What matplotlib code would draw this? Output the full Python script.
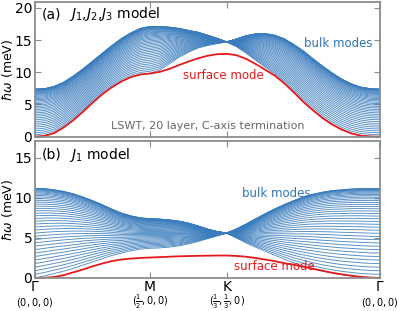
import numpy as np
import matplotlib
matplotlib.use("Agg")
import matplotlib.pyplot as plt
from matplotlib.transforms import blended_transform_factory

# path coordinate (Gamma=0, M=1, K=5/3, Gamma=3), 37 samples
q = np.arange(37) / 12.0
tick_pos = [0.0, 1.0, 5.0 / 3.0, 3.0]
tick_labels = ["Γ", "M", "K", "Γ"]
tick_sub = [r"$(0,0,0)$", r"$(\frac{1}{2},0,0)$", r"$(\frac{1}{3},\frac{1}{3},0)$", r"$(0,0,0)$"]

# panel (a): J1,J2,J3 model
a_upper = [7.4, 7.45, 7.8, 8.45, 9.4, 10.5, 11.7, 12.9, 14.1, 15.2, 16.1, 16.8, 17.1,
           17.1, 17.0, 16.8, 16.5, 16.2, 15.75, 15.25, 14.7,
           15.15, 15.65, 15.95, 16.0, 15.75, 15.2, 14.3, 13.3, 12.1, 10.95, 9.9, 8.95,
           8.2, 7.7, 7.45, 7.4]
a_lower = [0.0, 0.15, 0.6, 1.5, 2.6, 3.9, 5.3, 6.6, 7.7, 8.6, 9.3, 9.7, 9.85,
           10.3, 11.3, 12.3, 13.1, 13.75, 14.15, 14.45, 14.7,
           14.0, 13.0, 11.9, 10.8, 9.75, 8.4, 7.0, 5.5, 4.2, 3.0, 2.0, 1.15,
           0.55, 0.2, 0.05, 0.0]
a_surface = [0.0, 0.12, 0.55, 1.45, 2.55, 3.85, 5.25, 6.55, 7.65, 8.55, 9.25, 9.65, 9.8,
             10.05, 10.5, 11.1, 11.65, 12.15, 12.55, 12.8, 12.85,
             12.65, 12.1, 11.3, 10.4, 9.5, 8.3, 6.9, 5.4, 4.1, 2.9, 1.9, 1.1,
             0.5, 0.15, 0.03, 0.0]

# panel (b): J1 model
b_upper = [11.2, 11.15, 11.0, 10.8, 10.5, 10.1, 9.65, 9.15, 8.6, 8.1, 7.75, 7.5, 7.4,
           7.35, 7.25, 7.1, 6.85, 6.5, 6.1, 5.8, 5.6,
           6.1, 6.7, 7.35, 8.0, 8.6, 9.15, 9.65, 10.1, 10.45, 10.7, 10.9, 11.0,
           11.1, 11.15, 11.15, 11.15]
b_lower = [0.0, 0.25, 0.55, 0.85, 1.2, 1.6, 2.0, 2.4, 2.8, 3.1, 3.4, 3.6, 3.7,
           3.75, 3.85, 4.0, 4.25, 4.55, 4.9, 5.25, 5.6,
           5.0, 4.4, 3.85, 3.35, 2.85, 2.35, 1.9, 1.5, 1.15, 0.85, 0.6, 0.4,
           0.25, 0.12, 0.04, 0.0]
b_surface = [0.0, 0.02, 0.12, 0.35, 0.7, 1.05, 1.45, 1.8, 2.1, 2.3, 2.42, 2.5, 2.55,
             2.6, 2.65, 2.7, 2.73, 2.76, 2.78, 2.8, 2.8,
             2.75, 2.65, 2.5, 2.3, 2.1, 1.85, 1.65, 1.4, 1.15, 0.9, 0.65, 0.45,
             0.28, 0.14, 0.05, 0.0]

n_bulk = 40
layer_frac = np.sin(np.linspace(0, np.pi / 2, n_bulk))

blue = "#3a7cbd"
red = "#e41a1c"
gray = "#8c8c8c"

fig = plt.figure(figsize=(3.99, 3.11), dpi=100)
ax1 = fig.add_axes([0.0877, 0.5595, 0.8646, 0.4341])
ax2 = fig.add_axes([0.0877, 0.1050, 0.8646, 0.4416])


def draw(ax, up, lo, su):
    up = np.array(up)
    lo = np.array(lo)
    for f in layer_frac:
        ax.plot(q, lo + (up - lo) * f, color=blue, lw=0.65, alpha=0.88)
    ax.plot(q, su, color=red, lw=1.3)


draw(ax1, a_upper, a_lower, a_surface)
draw(ax2, b_upper, b_lower, b_surface)

for ax in (ax1, ax2):
    ax.set_xlim(0, 3)
    ax.set_xticks(tick_pos)
    for s in ax.spines.values():
        s.set_color(gray)
        s.set_linewidth(1.3)
    ax.tick_params(direction="in", top=True, right=True, labelsize=10,
                   color=gray, length=4, width=0.8, pad=2)
    ax.set_ylabel(r"$\hbar\omega$ (meV)", fontsize=9, labelpad=0)

ax1.set_ylim(-0.05, 20.9)
ax1.set_yticks([0, 5, 10, 15, 20])
ax1.set_xticklabels([])
ax2.set_ylim(-0.05, 17.1)
ax2.set_yticks([0, 5, 10, 15])
ax2.set_xticklabels(tick_labels, fontsize=10)
ax2.tick_params(axis="x", pad=1)

tr = blended_transform_factory(ax2.transData, ax2.transAxes)
for xp, s in zip(tick_pos, tick_sub):
    ax2.text(xp, -0.175, s, transform=tr, ha="center", va="center", fontsize=7)

ax1.text(0.02, 0.91, "(a)", transform=ax1.transAxes, fontsize=10, va="center")
ax1.text(0.10, 0.91, r"$J_1$,$J_2$,$J_3$ model", transform=ax1.transAxes, fontsize=10, va="center")
ax1.text(0.878, 0.695, "bulk modes", transform=ax1.transAxes, fontsize=8.5, color="#2e74b5",
         ha="center", va="center")
ax1.text(0.545, 0.458, "surface mode", transform=ax1.transAxes, fontsize=8.5, color=red,
         ha="center", va="center")
ax1.text(0.5, 0.08, "LSWT, 20 layer, C-axis termination", transform=ax1.transAxes,
         fontsize=8, color="#666666", ha="center", va="center")

ax2.text(0.02, 0.9, "(b)", transform=ax2.transAxes, fontsize=10, va="center")
ax2.text(0.10, 0.9, r"$J_1$ model", transform=ax2.transAxes, fontsize=10, va="center")
ax2.text(0.70, 0.615, "bulk modes", transform=ax2.transAxes, fontsize=8.5, color="#2e74b5",
         ha="center", va="center")
ax2.text(0.693, 0.085, "surface mode", transform=ax2.transAxes, fontsize=8.5, color=red,
         ha="center", va="center")

fig.savefig("out.png", dpi=100)
